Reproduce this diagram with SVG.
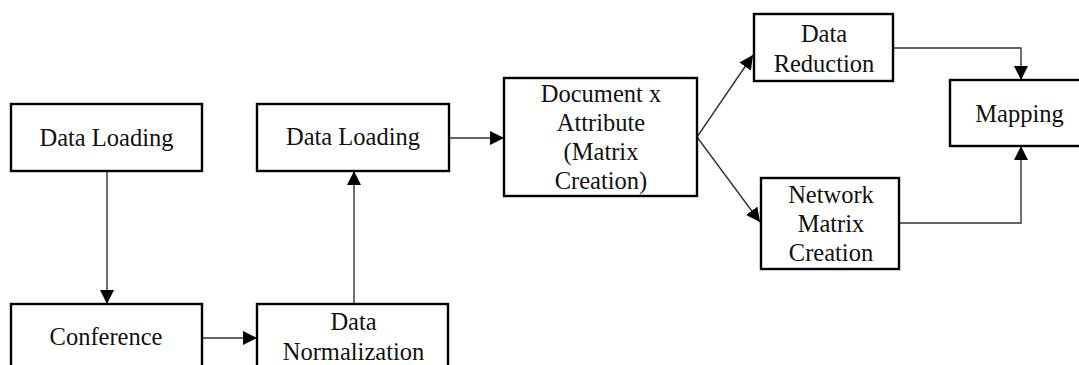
<svg xmlns="http://www.w3.org/2000/svg" width="1079" height="365" viewBox="0 0 1079 365">
  <defs>
    <marker id="arrow" markerUnits="userSpaceOnUse" markerWidth="14" markerHeight="14" viewBox="0 0 12 12" refX="12" refY="6" orient="auto">
      <path d="M0,0 L12,6 L0,12 Z" fill="#000"/>
    </marker>
    <style>
      .box { fill: #fff; stroke: #000; stroke-width: 2.4; }
      .lbl { font-family: "Liberation Serif", "Times New Roman", serif; font-size: 24.5px; fill: #111; text-anchor: middle; }
      .conn { fill: none; stroke: #333; stroke-width: 1.4; marker-end: url(#arrow); }
    </style>
  </defs>
  <rect width="1079" height="365" fill="#fff"/>

  <g id="connectors">
    <path class="conn" d="M107,171 L107,304"/>
    <path class="conn" d="M202,338 L257,338"/>
    <path class="conn" d="M354,304 L354,171"/>
    <path class="conn" d="M449,138 L504,138"/>
    <path class="conn" d="M697,137 L753,55"/>
    <path class="conn" d="M697,137 L760,222"/>
    <path class="conn" d="M893,48 L1021,48 L1021,80"/>
    <path class="conn" d="M899,223 L1021,223 L1021,146"/>
  </g>

  <g id="data-loading-1">
    <rect class="box" x="11" y="104" width="191" height="67"/>
    <text class="lbl" x="106.5" y="146">Data Loading</text>
  </g>

  <g id="conference">
    <rect class="box" x="11" y="304" width="191" height="80"/>
    <text class="lbl" x="106" y="345">Conference</text>
  </g>

  <g id="data-normalization">
    <rect class="box" x="257" y="304" width="191" height="80"/>
    <text class="lbl" x="353.5" y="330">Data</text>
    <text class="lbl" x="353.5" y="360">Normalization</text>
  </g>

  <g id="data-loading-2">
    <rect class="box" x="257" y="104" width="192" height="67"/>
    <text class="lbl" x="353" y="145">Data Loading</text>
  </g>

  <g id="document-attribute">
    <rect class="box" x="504" y="78" width="193" height="118"/>
    <text class="lbl" x="601" y="102">Document x</text>
    <text class="lbl" x="601" y="131">Attribute</text>
    <text class="lbl" x="601" y="160">(Matrix</text>
    <text class="lbl" x="601" y="189">Creation)</text>
  </g>

  <g id="data-reduction">
    <rect class="box" x="754" y="14" width="139" height="67"/>
    <text class="lbl" x="824" y="42">Data</text>
    <text class="lbl" x="824" y="72">Reduction</text>
  </g>

  <g id="mapping">
    <rect class="box" x="950" y="80" width="145" height="66"/>
    <text class="lbl" x="1019.5" y="122">Mapping</text>
  </g>

  <g id="network-matrix">
    <rect class="box" x="761" y="178" width="138" height="91"/>
    <text class="lbl" x="831" y="203">Network</text>
    <text class="lbl" x="831" y="232">Matrix</text>
    <text class="lbl" x="831" y="261">Creation</text>
  </g>
</svg>
